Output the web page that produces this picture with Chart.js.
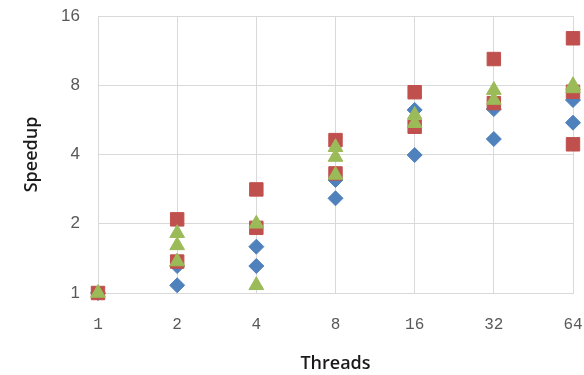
<!DOCTYPE html>
<html>
<head>
<meta charset="utf-8">
<script src="https://cdn.jsdelivr.net/npm/chart.js@4"></script>
<style>
  html, body { margin: 0; padding: 0; background: #fff; }
  #wrap { width: 584px; height: 375px; }
</style>
</head>
<body>
<div id="wrap"><canvas id="speedup"></canvas></div>
<script>
// thread counts on the x axis and speedup ticks on the y axis
var threadTicks = [1, 2, 4, 8, 16, 32, 64];
var speedupTicks = [1, 2, 4, 8, 16];

// measured speedups, one entry per [threads, speedup]
var blueRuns = [[1, 1], [2, 1.08], [2, 1.31], [4, 1.31], [4, 1.59], [8, 2.58], [8, 3.1],
  [16, 3.98], [16, 6.25], [32, 4.67], [32, 6.3], [64, 5.5], [64, 6.9]];
var redRuns = [[1, 1], [2, 2.09], [2, 1.37], [4, 2.82], [4, 1.92], [8, 4.62], [8, 3.31],
  [16, 7.46], [16, 5.28], [32, 10.4], [32, 6.69], [64, 12.8], [64, 7.5], [64, 4.43]];
var greenRuns = [[1, 1], [2, 1.82], [2, 1.61], [2, 1.37], [4, 2.0], [4, 1.08], [8, 4.3], [8, 3.9], [8, 3.26],
  [16, 5.94], [16, 5.47], [32, 7.62], [32, 6.9], [64, 8.0], [64, 7.75]];

function toPoints(runs) {
  return runs.map(function (r) { return { x: r[0], y: r[1] }; });
}

var gridGray = '#d9d9d9';
var tickGray = '#595959';

new Chart(document.getElementById('speedup'), {
  type: 'scatter',
  data: {
    datasets: [
      {
        label: 'A',
        data: toPoints(blueRuns),
        pointStyle: 'rectRot',
        pointRadius: 7.5,
        backgroundColor: '#4f81bd',
        borderColor: '#4f81bd',
        borderWidth: 1,
        clip: false,
        order: 3
      },
      {
        label: 'B',
        data: toPoints(redRuns),
        pointStyle: 'rect',
        pointRadius: 9.5,
        backgroundColor: '#c0504d',
        borderColor: '#c0504d',
        borderWidth: 1,
        clip: false,
        order: 2
      },
      {
        label: 'C',
        data: toPoints(greenRuns),
        pointStyle: 'triangle',
        pointRadius: 8.5,
        backgroundColor: '#9bbb59',
        borderColor: '#9bbb59',
        borderWidth: 1,
        clip: false,
        order: 1
      }
    ]
  },
  options: {
    responsive: true,
    maintainAspectRatio: false,
    animation: false,
    layout: { padding: { top: 16, right: 11, left: 0, bottom: 0 } },
    plugins: {
      legend: { display: false },
      tooltip: { enabled: false }
    },
    scales: {
      x: {
        type: 'logarithmic',
        min: 1,
        max: 64,
        afterBuildTicks: function (axis) {
          axis.ticks = threadTicks.map(function (v) { return { value: v }; });
        },
        afterFit: function (axis) {
          axis.height = 82;
          axis.paddingLeft = 0;
          axis.paddingRight = 0;
        },
        grid: { color: gridGray, drawTicks: false },
        border: { color: gridGray },
        ticks: {
          padding: 22,
          color: tickGray,
          maxRotation: 0,
          font: { family: "'Liberation Mono', monospace", size: 16 },
          callback: function (v) { return String(v); }
        },
        title: {
          display: true,
          text: 'Threads',
          color: '#1a1a1a',
          font: { family: "'Open Sans'", size: 18, weight: '600' },
          padding: { top: 0, bottom: 0 }
        }
      },
      y: {
        type: 'logarithmic',
        min: 1,
        max: 16,
        afterBuildTicks: function (axis) {
          axis.ticks = speedupTicks.map(function (v) { return { value: v }; });
        },
        afterFit: function (axis) {
          axis.width = 98;
          axis.paddingTop = 0;
          axis.paddingBottom = 0;
        },
        grid: { color: gridGray, drawTicks: false },
        border: { color: gridGray },
        ticks: {
          padding: 18,
          color: tickGray,
          font: { family: "'Liberation Sans', sans-serif", size: 17 },
          callback: function (v) { return String(v); }
        },
        title: {
          display: true,
          text: 'Speedup',
          color: '#1a1a1a',
          font: { family: "'Open Sans'", size: 18, weight: '600' },
          padding: { top: 21, bottom: 0 }
        }
      }
    }
  }
});
</script>
</body>
</html>
